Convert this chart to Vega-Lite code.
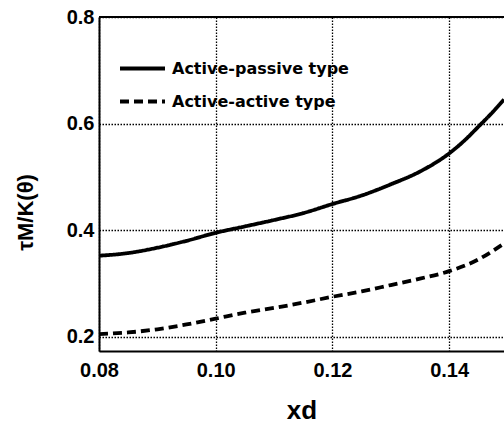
{
  "$schema": "https://vega.github.io/schema/vega-lite/v6.json",
  "width": 405,
  "height": 334,
  "autosize": "none",
  "padding": {"left": 99, "top": 17, "right": 0, "bottom": 72},
  "background": "white",
  "config": {
    "view": {"stroke": null},
    "font": "Liberation Sans",
    "axis": {
      "domainColor": "black",
      "domainWidth": 2,
      "ticks": false,
      "labelFont": "Liberation Sans",
      "labelFontWeight": "bold",
      "labelFontSize": 20,
      "labelColor": "black",
      "titleFont": "Liberation Sans",
      "titleFontWeight": "bold",
      "titleColor": "black",
      "gridColor": "black",
      "gridOpacity": 1,
      "gridDash": [1.5, 1.5],
      "gridWidth": 1.3
    },
    "legend": {
      "labelFont": "DejaVu Sans",
      "labelFontWeight": "bold",
      "labelFontSize": 16,
      "labelColor": "black",
      "labelLimit": 400
    }
  },
  "datasets": {
    "curves": [
      {"x": 0.080, "y": 0.352, "series": "Active-passive type"},
      {"x": 0.085, "y": 0.357, "series": "Active-passive type"},
      {"x": 0.090, "y": 0.367, "series": "Active-passive type"},
      {"x": 0.095, "y": 0.380, "series": "Active-passive type"},
      {"x": 0.100, "y": 0.395, "series": "Active-passive type"},
      {"x": 0.105, "y": 0.407, "series": "Active-passive type"},
      {"x": 0.110, "y": 0.419, "series": "Active-passive type"},
      {"x": 0.115, "y": 0.432, "series": "Active-passive type"},
      {"x": 0.120, "y": 0.449, "series": "Active-passive type"},
      {"x": 0.125, "y": 0.465, "series": "Active-passive type"},
      {"x": 0.130, "y": 0.486, "series": "Active-passive type"},
      {"x": 0.135, "y": 0.510, "series": "Active-passive type"},
      {"x": 0.140, "y": 0.544, "series": "Active-passive type"},
      {"x": 0.1425, "y": 0.567, "series": "Active-passive type"},
      {"x": 0.145, "y": 0.594, "series": "Active-passive type"},
      {"x": 0.1475, "y": 0.622, "series": "Active-passive type"},
      {"x": 0.1494, "y": 0.645, "series": "Active-passive type"},
      {"x": 0.080, "y": 0.205, "series": "Active-active type"},
      {"x": 0.085, "y": 0.208, "series": "Active-active type"},
      {"x": 0.090, "y": 0.214, "series": "Active-active type"},
      {"x": 0.095, "y": 0.223, "series": "Active-active type"},
      {"x": 0.100, "y": 0.234, "series": "Active-active type"},
      {"x": 0.105, "y": 0.245, "series": "Active-active type"},
      {"x": 0.110, "y": 0.254, "series": "Active-active type"},
      {"x": 0.115, "y": 0.264, "series": "Active-active type"},
      {"x": 0.120, "y": 0.275, "series": "Active-active type"},
      {"x": 0.125, "y": 0.285, "series": "Active-active type"},
      {"x": 0.130, "y": 0.297, "series": "Active-active type"},
      {"x": 0.135, "y": 0.309, "series": "Active-active type"},
      {"x": 0.140, "y": 0.323, "series": "Active-active type"},
      {"x": 0.145, "y": 0.345, "series": "Active-active type"},
      {"x": 0.1494, "y": 0.375, "series": "Active-active type"}
    ]
  },
  "layer": [
    {
      "data": {"name": "curves"},
      "mark": {"type": "line", "color": "black", "strokeWidth": 3.8, "clip": true, "interpolate": "monotone"},
      "encoding": {
        "x": {
          "field": "x", "type": "quantitative",
          "scale": {"domain": [0.08, 0.1494], "nice": false, "zero": false},
          "axis": {"values": [0.08, 0.10, 0.12, 0.14], "format": ".2f", "labelPadding": 9, "title": "xd", "titleFontSize": 26, "titlePadding": 17, "grid": true, "labelFlush": false}
        },
        "y": {
          "field": "y", "type": "quantitative",
          "scale": {"domain": [0.1732, 0.8], "nice": false, "zero": false},
          "axis": {"values": [0.2, 0.4, 0.6, 0.8], "format": ".1f", "labelPadding": 5, "title": "τM/K(θ)", "titleFontSize": 22, "titlePadding": 29, "titleY": 195, "grid": true, "labelFlush": false}
        },
        "strokeDash": {
          "field": "series", "type": "nominal",
          "scale": {"domain": ["Active-passive type", "Active-active type"], "range": [[1, 0], [9, 5]]},
          "legend": {
            "title": null,
            "orient": "none",
            "legendX": 19,
            "legendY": 27,
            "symbolType": "stroke",
            "symbolSize": 2025,
            "symbolStrokeWidth": 3.8,
            "symbolStrokeColor": "black",
            "labelOffset": 5,
            "labelLimit": 400,
            "rowPadding": -10
          }
        }
      }
    },
    {
      "data": {"values": [{"v": 0.8}]},
      "mark": {"type": "rule", "color": "black", "strokeWidth": 2},
      "encoding": {"y": {"field": "v", "type": "quantitative"}}
    }
  ]
}
